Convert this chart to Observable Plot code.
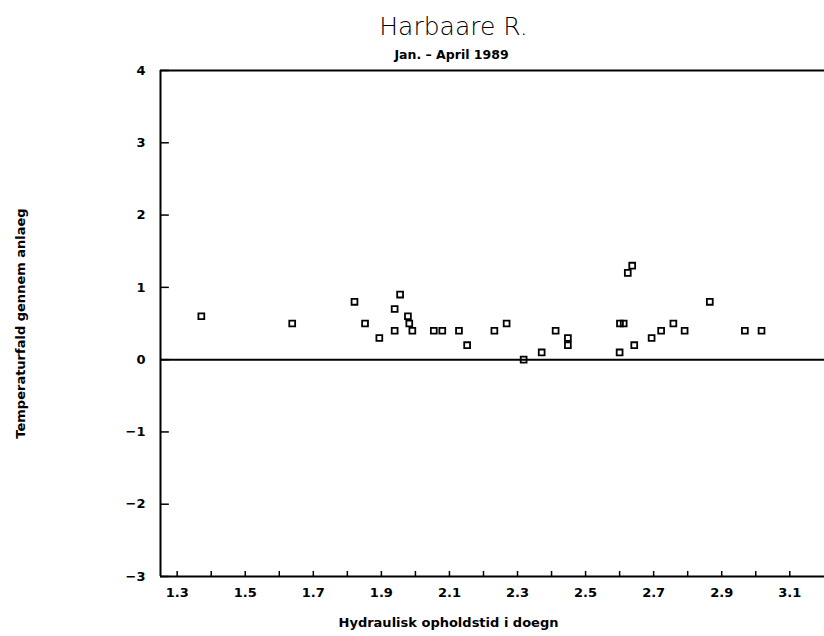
<!DOCTYPE html>
<html>
<head>
<meta charset="utf-8">
<script src="https://cdn.jsdelivr.net/npm/d3@7"></script>
<script src="https://cdn.jsdelivr.net/npm/@observablehq/plot@0.6"></script>
<style>
  html, body { margin: 0; padding: 0; background: #fff; }
  #chart svg { display: block; }
</style>
</head>
<body>
<div id="chart"></div>
<script>
const title = "Harbaare R.";
const subtitle = "Jan. – April 1989";
const xLabel = "Hydraulisk opholdstid i doegn";
const yLabel = "Temperaturfald gennem anlaeg";

// Hydraulic retention time (days)
const retention = [1.371, 1.638, 1.821, 1.852, 1.894, 1.939, 1.955, 1.939, 1.978, 1.982,
  1.991, 2.054, 2.079, 2.128, 2.152, 2.232, 2.268, 2.318, 2.371, 2.412,
  2.448, 2.448, 2.600, 2.601, 2.612, 2.624, 2.637, 2.643, 2.694, 2.722,
  2.758, 2.791, 2.865, 2.968, 3.017];
// Temperature drop through plant
const tempDrop = [0.6, 0.5, 0.8, 0.5, 0.3, 0.7, 0.9, 0.4, 0.6, 0.5,
  0.4, 0.4, 0.4, 0.4, 0.2, 0.4, 0.5, 0.0, 0.1, 0.4,
  0.3, 0.2, 0.1, 0.5, 0.5, 1.2, 1.3, 0.2, 0.3, 0.4,
  0.5, 0.4, 0.8, 0.4, 0.4];

const xLabelTicks = [1.3, 1.5, 1.7, 1.9, 2.1, 2.3, 2.5, 2.7, 2.9, 3.1];
const xMinorTicks = [1.3, 1.4, 1.5, 1.6, 1.7, 1.8, 1.9, 2.0, 2.1, 2.2, 2.3, 2.4, 2.5, 2.6, 2.7, 2.8, 2.9, 3.0, 3.1];
const yTicks = [-3, -2, -1, 0, 1, 2, 3, 4];
const xDomain = [1.251, 3.202];
const yDomain = [-3, 4];

const points = retention.map((x, i) => ({x, y: tempDrop[i]}));

const font = "'DejaVu Sans', 'Liberation Sans', sans-serif";

const chart = Plot.plot({
  width: 824,
  height: 636,
  marginLeft: 160,
  marginRight: 0,
  marginTop: 70,
  marginBottom: 60,
  style: {fontFamily: font, color: "#000", background: "#fff"},
  x: {domain: xDomain},
  y: {domain: yDomain},
  marks: [
    Plot.ruleX([xDomain[0]], {stroke: "#000", strokeWidth: 2}),
    Plot.ruleY([yDomain[1], yDomain[0]], {stroke: "#000", strokeWidth: 2}),
    Plot.ruleY([0], {stroke: "#000", strokeWidth: 2}),
    Plot.ruleY(yTicks, {x1: xDomain[0], x2: xDomain[0] + 0.026, stroke: "#000", strokeWidth: 1.5}),
    Plot.ruleX(xMinorTicks, {y1: yDomain[0], y2: yDomain[0] + 0.07, stroke: "#000", strokeWidth: 1.5}),
    Plot.axisY({ticks: yTicks, tickSize: 0, tickPadding: 15, label: null, fontSize: 13, fontWeight: "bold", tickFormat: d3.format("d")}),
    Plot.axisX({ticks: xLabelTicks, tickSize: 0, tickPadding: 11, label: null, fontSize: 13, fontWeight: "bold", tickFormat: d3.format(".1f")}),
    Plot.dot(points, {x: "x", y: "y", symbol: "square", r: 3.3, stroke: "#000", strokeWidth: 1.8, fill: "none"}),
    Plot.text([yLabel], {frameAnchor: "left", textAnchor: "middle", rotate: -90, dx: -140, fontSize: 13, fontWeight: "bold"}),
    Plot.text([xLabel], {frameAnchor: "bottom", dx: -44, dy: 50, fontSize: 13, fontWeight: "bold"}),
    Plot.text([title], {frameAnchor: "top", dx: -39, dy: -53, fontSize: 25, fontWeight: 200, fontFamily: "'DejaVu Sans', sans-serif"}),
    Plot.text([subtitle], {frameAnchor: "top", dx: -41, dy: -20, fontSize: 12.5, fontWeight: "bold"})
  ]
});
document.getElementById("chart").appendChild(chart);
</script>
</body>
</html>
